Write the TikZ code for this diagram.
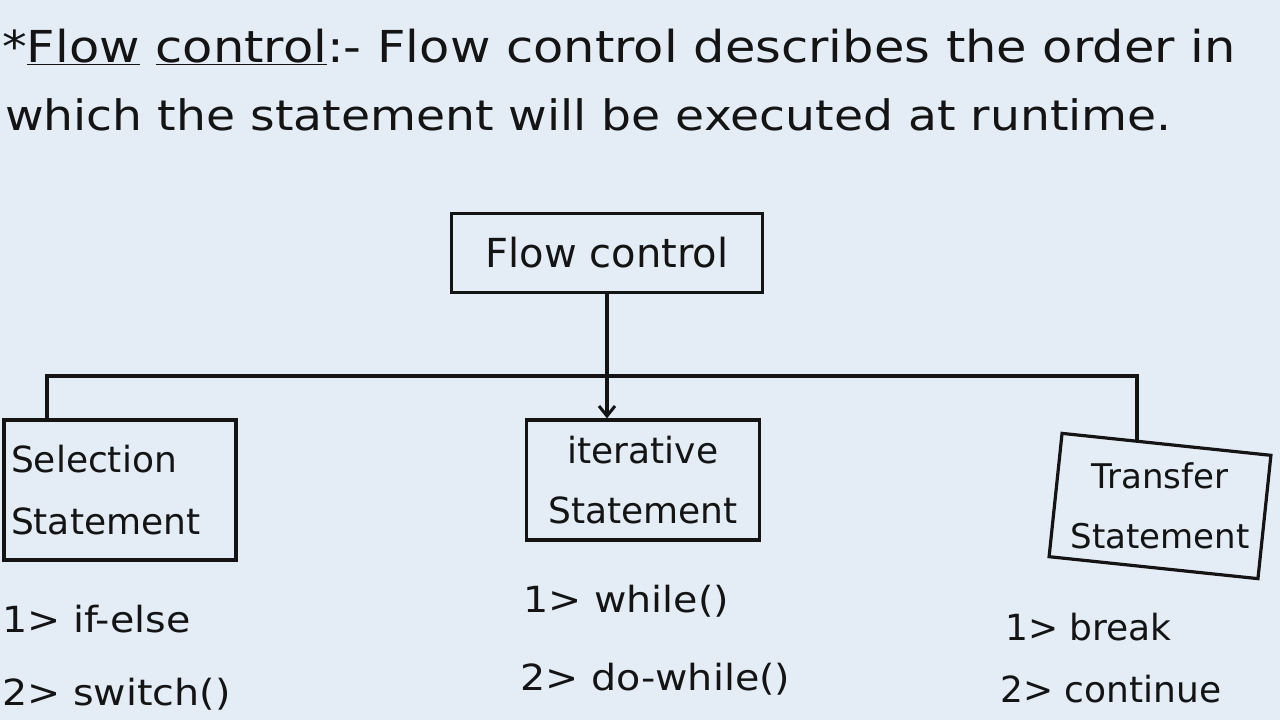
\documentclass[tikz,border=0pt]{standalone}
\usepackage{fontspec}
\setmainfont{DejaVu Sans}
\newfontfamily\widefont[FakeStretch=1.125]{DejaVu Sans}
\newfontfamily\midfont[FakeStretch=1.1]{DejaVu Sans}
\usetikzlibrary{arrows.meta,calc}
\definecolor{paper}{HTML}{E4ECF6}
\definecolor{ink}{HTML}{141414}
\begin{document}
\begin{tikzpicture}[x=1pt,y=-1pt,
  box/.style={draw=ink,line width=3.2pt,inner sep=5pt,text=ink},
  wire/.style={draw=ink,line width=3.2pt},
  txt/.style={text=ink,inner sep=0pt,font=\fontsize{36}{60}\selectfont},
  widetxt/.style={text=ink,inner sep=0pt,font=\midfont\fontsize{36}{60}\selectfont},
  title/.style={text=ink,inner sep=0pt,font=\widefont\fontsize{44}{50}\selectfont},
  arrowtip/.style={-{Straight Barb[length=10pt,width=16pt,line width=3pt]}}]
\fill[paper] (0,0) rectangle (1280,720);
\useasboundingbox (0,0) rectangle (1280,720);

% heading text
\node[title,anchor=base west] (t1) at (2,62) {*\underline{Flow} \underline{control}:- Flow control describes the order in};
\node[title,anchor=base west,font=\widefont\fontsize{42}{50}\selectfont] (t2) at (5,130) {which the statement will be executed at runtime.};

% boxes
\node[box,minimum width=311pt,minimum height=79pt,font=\fontsize{40}{48}\selectfont] (fc) at (607,253) {Flow control};
\node[box,minimum width=232pt,minimum height=140pt,text width=218pt,align=left,font=\fontsize{36}{62}\selectfont] (sel) at (120,490) {Selection\\Statement};
\node[box,minimum width=233pt,minimum height=120pt,text width=220pt,align=center,font=\fontsize{36}{60}\selectfont] (it) at (643,480) {iterative\\Statement};
\node[box,minimum width=210pt,minimum height=124pt,rotate=-6] (tr) at (1160,506) {};
\node[text=ink,inner sep=0pt,align=center,font=\fontsize{34}{60}\selectfont] (trtext) at (tr.center) {Transfer\\Statement};

% connectors
\coordinate (j) at (607,376);
\coordinate (selTop) at ($(sel.north west)!0.19!(sel.north east)$);
\coordinate (trTop) at ($(tr.north west)!0.36!(tr.north east)$);
\draw[wire] (selTop) |- (j) -| (trTop);
\draw[wire,arrowtip] (fc.south) -- (fc.south |- it.north);

% lists
\node[widetxt,anchor=base west] (s1) at (2,632) {1> if-else};
\node[widetxt,anchor=base west] (s2) at (2,705) {2> switch()};
\node[widetxt,anchor=base west] (i1) at (523,612) {1> while()};
\node[widetxt,anchor=base west] (i2) at (520,690) {2> do-while()};
\node[txt,anchor=base west] (b1) at (1005,640) {1> break};
\node[txt,anchor=base west] (b2) at (1000,702) {2> continue};
\end{tikzpicture}
\end{document}
